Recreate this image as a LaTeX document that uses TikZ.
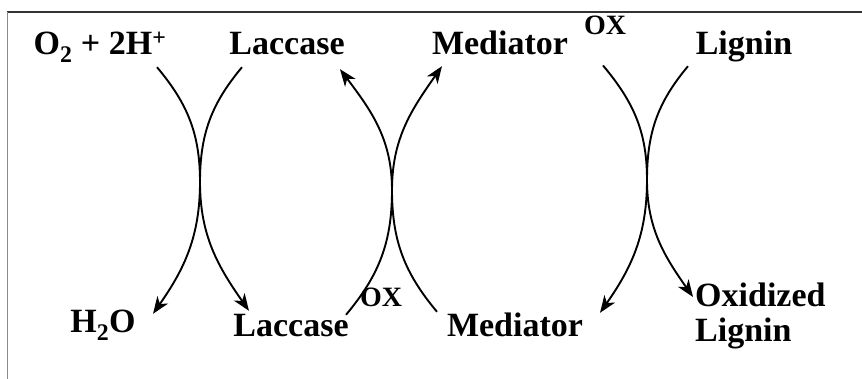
\documentclass[tikz,border=0pt]{standalone}
\usepackage{fontspec}
\setmainfont{Liberation Serif}
\usetikzlibrary{arrows.meta}

\begin{document}
\begin{tikzpicture}[
    x=1pt, y=1pt,
    species/.style={inner sep=0pt, anchor=base, text height=0.7em, text depth=0.25em,
        font=\fontsize{34}{35}\selectfont\bfseries},
    oxlabel/.style={inner sep=0pt, anchor=base,
        font=\fontsize{28}{30}\selectfont\bfseries},
    arc/.style={line width=1.9pt, draw=black},
    flow/.style={arc, -{Stealth[length=17pt, width=13pt, inset=5pt]}}
]
\useasboundingbox (0,0) rectangle (862,379);
\draw[black!80, line width=1.4pt] (7,367) -- (862,367);
\draw[black!45, line width=1pt] (7,367) -- (7,0);

% top row
\node[species] (o2) at (100,324) {O\textsubscript{2} + 2H\textsuperscript{+}};
\node[species] (laccase) at (287,324) {Laccase};
\node[species] (mediator) at (500,324) {Mediator};
\node[oxlabel] (mediatorox) at (605,344) {OX};
\node[species] (lignin) at (744,324) {Lignin};

% bottom row
\node[species] (water) at (103,46) {H\textsubscript{2}O};
\node[species] (laccaseox) at (291,42) {Laccase};
\node[oxlabel] (laccaseoxsup) at (381,72) {OX};
\node[species] (mediatorred) at (515,42) {Mediator};
\node[species, anchor=north west, text height=, text depth=, align=left] (oxlignin) at (695,96) {Oxidized\\Lignin};

\coordinate (kiss1) at (200,197);
\coordinate (kiss2) at (392,189);
\coordinate (kiss3) at (647,199);

% laccase reduces oxygen
\draw[flow] ([shift={(57,-9.5)}]o2.south) to[out=-50,in=90] (kiss1) to[out=-90,in=55] ([shift={(50,12)}]water.north);
\draw[flow] ([shift={(-45,-9.5)}]laccase.south) to[out=-130,in=90] (kiss1) to[out=-90,in=125] ([shift={(-42,19)}]laccaseox.north);
% mediator oxidised by laccase
\draw[flow] ([shift={(55,15)}]laccaseox.north) to[out=50,in=-90] (kiss2) to[out=90,in=-53] ([shift={(53,-11.5)}]laccase.south);
\draw[flow] ([shift={(-78,18)}]mediatorred.north) to[out=130,in=-90] (kiss2) to[out=90,in=-125] ([shift={(-58,-8.5)}]mediator.south);
% lignin oxidised by mediator
\draw[flow] ([shift={(-2,-30)}]mediatorox.south) to[out=-50,in=90] (kiss3) to[out=-90,in=55] ([shift={(85,17)}]mediatorred.north);
\draw[flow] ([shift={(-56,-8.5)}]lignin.south) to[out=-130,in=90] (kiss3) to[out=-90,in=125] ([shift={(-2,-14)}]oxlignin.north west);
\end{tikzpicture}
\end{document}
